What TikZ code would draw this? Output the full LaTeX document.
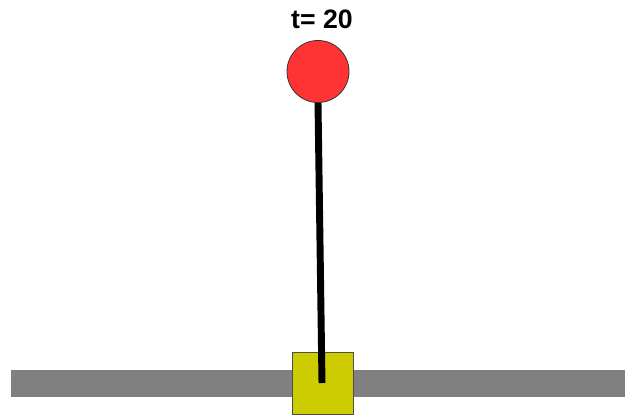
\documentclass[tikz,border=0pt]{standalone}
\usepackage{fontspec}
\setmainfont{Liberation Sans}
\definecolor{track}{HTML}{808080}
\definecolor{cart}{HTML}{CCCC00}
\definecolor{bob}{HTML}{FF3333}
\begin{document}
\begin{tikzpicture}[x=0.75pt,y=-0.75pt,
  trackstyle/.style={fill=track,draw=none},
  cartstyle/.style={fill=cart,draw=black!70,line width=0.6pt},
  polestyle/.style={line width=5.2pt,draw=black},
  bobstyle/.style={circle,fill=bob,draw=black!80,line width=0.6pt,minimum size=46.5pt,inner sep=0pt},
  labelstyle/.style={font=\bfseries\fontsize{20}{24}\selectfont}]
\useasboundingbox (0,0) rectangle (625,418);
\fill[trackstyle] (11,370) rectangle (625,397);
\draw[cartstyle] (292,352) rectangle (353,414);
\coordinate (base) at (322,383);
\node[bobstyle] (ball) at (318,71.5) {};
\draw[polestyle] (base) -- (ball.south);
\node[labelstyle] (t) at (322,19) {t= 20};
\end{tikzpicture}
\end{document}
